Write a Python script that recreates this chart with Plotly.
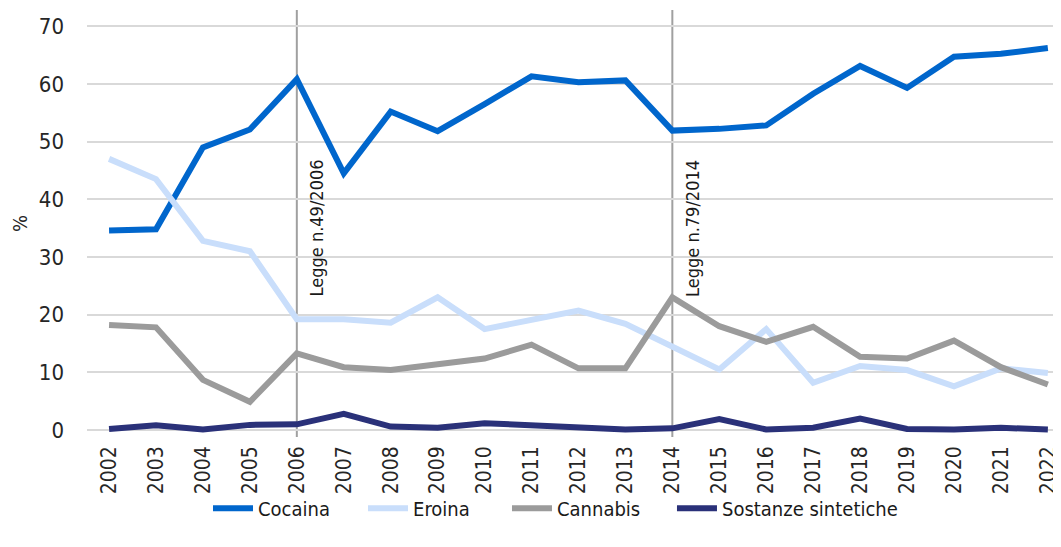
import plotly.graph_objects as go

years = list(range(2002, 2023))
cocaina = [34.6, 34.8, 49.0, 52.1, 60.8, 44.5, 55.2, 51.8, 56.5, 61.3, 60.3, 60.6,
           51.9, 52.2, 52.8, 58.3, 63.1, 59.3, 64.7, 65.2, 66.2]
eroina = [47.0, 43.5, 32.8, 31.0, 19.2, 19.2, 18.6, 23.0, 17.5, 19.1, 20.7, 18.4,
          14.5, 10.5, 17.5, 8.2, 11.1, 10.4, 7.6, 10.7, 9.9]
cannabis = [18.2, 17.8, 8.7, 4.9, 13.3, 10.9, 10.4, 11.4, 12.4, 14.8, 10.7, 10.7,
            23.0, 18.0, 15.3, 17.9, 12.7, 12.4, 15.5, 10.9, 7.9]
sintetiche = [0.2, 0.85, 0.1, 0.9, 1.0, 2.8, 0.6, 0.4, 1.2, 0.8, 0.6, 0.1,
              0.3, 1.9, 0.1, 0.4, 2.0, 0.2, 0.1, 0.4, 0.1]

series = [("Cocaina", cocaina, "#0066CC"),
          ("Eroina", eroina, "#C9DEFB"),
          ("Cannabis", cannabis, "#9B9B9B"),
          ("Sostanze sintetiche", sintetiche, "#2A3179")]

law_years = [2006, 2014]
law_labels = ["Legge n.49/2006", "Legge n.79/2014"]

FONT = "DejaVu Sans Condensed, Liberation Sans Narrow, Arial Narrow, sans-serif"

legend_ids = ["legend", "legend2", "legend3", "legend4"]
legend_x = [0.1885, 0.3346, 0.4703, 0.6258]

fig = go.Figure()
for (name, vals, color), lid in zip(series, legend_ids):
    fig.add_trace(go.Scatter(x=years, y=vals, name=name, mode="lines",
                             line=dict(color=color, width=6), legend=lid))

for yr, lab in zip(law_years, law_labels):
    fig.add_shape(type="line", xref="x", yref="y", x0=yr, x1=yr, y0=-1.2, y1=72.8,
                  line=dict(color="#A0A0A0", width=2), layer="below")
    fig.add_annotation(x=yr, y=35, xref="x", yref="y", text=lab, textangle=-90,
                       showarrow=False, xanchor="left", xshift=7,
                       font=dict(family=FONT, size=18, color="#1a1a1a"))

legends = {}
for lid, lx in zip(legend_ids, legend_x):
    legends[lid] = dict(orientation="h", xref="container", yref="container",
                        x=lx, xanchor="left", y=0.05, yanchor="bottom",
                        bgcolor="rgba(0,0,0,0)",
                        font=dict(family=FONT, size=20, color="#1a1a1a"),
                        itemwidth=40)

# the page body adds an 8px offset, so margins are compensated
fig.update_layout(
    width=1061, height=547,
    margin=dict(l=79, r=8, t=2, b=118, autoexpand=False),
    paper_bgcolor="white", plot_bgcolor="white",
    font=dict(family=FONT, size=21, color="#262626"),
    showlegend=True,
    xaxis=dict(range=[2001.53, 2022.28], tickmode="array", tickvals=years,
               ticktext=[str(y) for y in years], tickangle=-90,
               showgrid=False, zeroline=False, showline=False, ticks="",
               ticklabelstandoff=4, automargin=False),
    yaxis=dict(range=[-1.2, 72.8], tickmode="array", tickvals=list(range(0, 80, 10)),
               showgrid=True, gridcolor="#D9D9D9", gridwidth=1.5, zeroline=False,
               showline=False, ticks="", ticklabelstandoff=22, automargin=False,
               tickfont=dict(size=22),
               title=dict(text="%", font=dict(size=20), standoff=20)),
    **legends,
)

fig.write_html("out.html")
